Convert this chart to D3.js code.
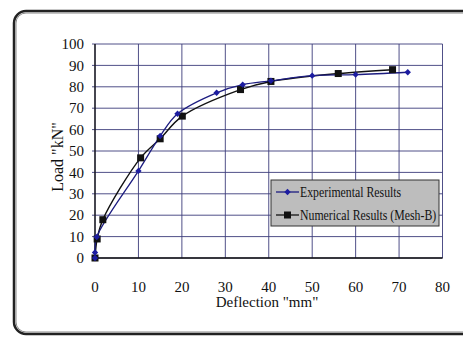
<!DOCTYPE html>
<html>
<head>
<meta charset="utf-8">
<script src="https://cdn.jsdelivr.net/npm/d3@7"></script>
</head>
<body style="margin:0; background:#fff">
<svg id="chart" width="463" height="339" style="font-family: 'Liberation Serif', 'Times New Roman', serif"></svg>
<script>
// values
var expX = [0, 0, 0.4, 10, 15, 19, 28, 34, 40.5, 50, 60, 72];
var expY = [0, 2.6, 9.8, 40.7, 57, 67.4, 77.2, 81, 82.8, 85.2, 85.7, 86.8];
var numX = [0, 0.5, 1.8, 10.5, 15, 20.1, 33.5, 40.5, 56, 68.5];
var numY = [0, 8.9, 17.9, 46.8, 55.7, 66.3, 78.7, 82.5, 86.2, 88];
var xTicks = [0, 10, 20, 30, 40, 50, 60, 70, 80];
var yTicks = [0, 10, 20, 30, 40, 50, 60, 70, 80, 90, 100];
var legendNames = ["Experimental Results", "Numerical Results (Mesh-B)"];

var svg = d3.select("#chart");
var fontFam = "'Times New Roman'";

// outer rounded frame (runs off the right edge)
svg.append("rect")
  .attr("x", 14).attr("y", 11)
  .attr("width", 470).attr("height", 323)
  .attr("rx", 12).attr("ry", 12)
  .attr("fill", "none")
  .attr("stroke", "#222")
  .attr("stroke-width", 2.5);
svg.append("rect")
  .attr("x", 16).attr("y", 13)
  .attr("width", 466).attr("height", 319)
  .attr("rx", 10).attr("ry", 10)
  .attr("fill", "none")
  .attr("stroke", "#888")
  .attr("stroke-width", 1);

var x = d3.scaleLinear().domain([0, 80]).range([95, 442.5]);
var y = d3.scaleLinear().domain([0, 100]).range([258, 44]);

var g = svg.append("g");

// grid
g.selectAll(".vgrid")
  .data(xTicks)
  .enter().append("line")
  .attr("x1", function(d){ return x(d); })
  .attr("x2", function(d){ return x(d); })
  .attr("y1", y(100)).attr("y2", y(0))
  .attr("stroke", "#3c3c7a")
  .attr("stroke-width", 0.9);

g.selectAll(".hgrid")
  .data(yTicks)
  .enter().append("line")
  .attr("x1", x(0) - 3).attr("x2", x(80))
  .attr("y1", function(d){ return y(d); })
  .attr("y2", function(d){ return y(d); })
  .attr("stroke", "#3c3c7a")
  .attr("stroke-width", 0.9);

// axis lines
g.append("line")
  .attr("x1", x(0)).attr("x2", x(0))
  .attr("y1", y(100)).attr("y2", y(0))
  .attr("stroke", "#111").attr("stroke-width", 1.3);
g.append("line")
  .attr("x1", x(0)).attr("x2", x(80))
  .attr("y1", y(0)).attr("y2", y(0))
  .attr("stroke", "#111").attr("stroke-width", 1.6);

// tick labels
g.selectAll(".ylab")
  .data(yTicks)
  .enter().append("text")
  .attr("x", 84)
  .attr("y", function(d){ return y(d); })
  .attr("dy", "0.35em")
  .attr("text-anchor", "end")
  .style("font-family", fontFam)
  .attr("font-size", "15px")
  .attr("fill", "#111")
  .text(function(d){ return d; });

g.selectAll(".xlab")
  .data(xTicks)
  .enter().append("text")
  .attr("x", function(d){ return x(d); })
  .attr("y", 292)
  .attr("text-anchor", "middle")
  .style("font-family", fontFam)
  .attr("font-size", "15px")
  .attr("fill", "#111")
  .text(function(d){ return d; });

// axis titles
svg.append("text")
  .attr("x", 267).attr("y", 307)
  .attr("text-anchor", "middle")
  .style("font-family", fontFam)
  .attr("font-size", "15px")
  .attr("fill", "#111")
  .text('Deflection "mm"');

svg.append("text")
  .attr("transform", "translate(63,157) rotate(-90)")
  .attr("text-anchor", "middle")
  .style("font-family", fontFam)
  .attr("font-size", "16px")
  .attr("fill", "#111")
  .text('Load "kN"');

// series
var expData = expX.map(function(d, i){ return [d, expY[i]]; });
var numData = numX.map(function(d, i){ return [d, numY[i]]; });

var line = d3.line()
  .x(function(d){ return x(d[0]); })
  .y(function(d){ return y(d[1]); })
  .curve(d3.curveCatmullRom.alpha(0.5));

g.append("path")
  .datum(numData)
  .attr("d", line)
  .attr("fill", "none")
  .attr("stroke", "#111")
  .attr("stroke-width", 1.4);

g.append("path")
  .datum(expData)
  .attr("d", line)
  .attr("fill", "none")
  .attr("stroke", "#1c1c80")
  .attr("stroke-width", 1.3);

var diamond = d3.symbol().type(d3.symbolDiamond2 || d3.symbolDiamond).size(26);

g.selectAll(".sq")
  .data(numData)
  .enter().append("rect")
  .attr("x", function(d){ return x(d[0]) - 3.5; })
  .attr("y", function(d){ return y(d[1]) - 3.5; })
  .attr("width", 7).attr("height", 7)
  .attr("fill", "#111");

g.selectAll(".dm")
  .data(expData)
  .enter().append("path")
  .attr("d", diamond)
  .attr("transform", function(d){ return "translate(" + x(d[0]) + "," + y(d[1]) + ")"; })
  .attr("fill", "#1c1ca0");

// legend
var lg = svg.append("g").attr("transform", "translate(271,180)");
lg.append("rect")
  .attr("width", 168).attr("height", 46)
  .attr("fill", "#bdbdbd")
  .attr("stroke", "#333")
  .attr("stroke-width", 1);

legendNames.forEach(function(name, i){
  var ly = 12 + i * 23;
  var col = i == 0 ? "#1c1c80" : "#111";
  lg.append("line")
    .attr("x1", 5).attr("x2", 28)
    .attr("y1", ly).attr("y2", ly)
    .attr("stroke", col).attr("stroke-width", 1.3);
  if (i == 0) {
    lg.append("path")
      .attr("d", diamond)
      .attr("transform", "translate(16.5," + ly + ")")
      .attr("fill", "#1c1ca0");
  } else {
    lg.append("rect")
      .attr("x", 13).attr("y", ly - 3.5)
      .attr("width", 7).attr("height", 7)
      .attr("fill", "#111");
  }
  lg.append("text")
    .attr("transform", "translate(29," + (ly + 4.5) + ") scale(1,1.25)")
    .style("font-family", fontFam)
    .attr("font-size", "11.8px")
    .attr("fill", "#111")
    .text(name);
});
</script>
</body>
</html>
